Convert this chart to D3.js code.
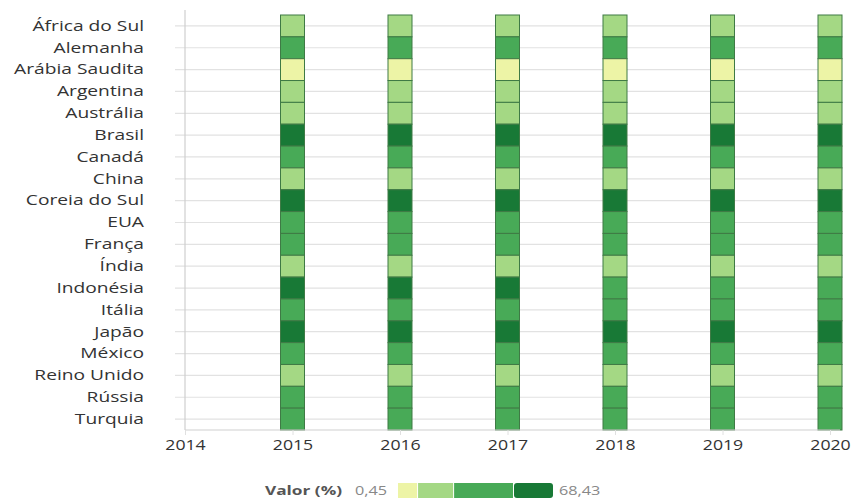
<!DOCTYPE html>
<html>
<head>
<meta charset="utf-8">
<script src="https://cdn.jsdelivr.net/npm/d3@7"></script>
<style>
  html, body { margin: 0; padding: 0; background: #fff; }
  svg { display: block; font-family: "Open Sans", "Noto Sans", sans-serif; }
</style>
</head>
<body>
<svg id="chart" width="852" height="499"></svg>
<script>
// ---- Data ----
const countries = ["África do Sul","Alemanha","Arábia Saudita","Argentina","Austrália","Brasil","Canadá","China","Coreia do Sul","EUA","França","Índia","Indonésia","Itália","Japão","México","Reino Unido","Rússia","Turquia"];
const years = [2015, 2016, 2017, 2018, 2019, 2020];
const xTicks = [2014, 2015, 2016, 2017, 2018, 2019, 2020];
// values (%) per country, one per year 2015..2020
const valAfricaDoSul   = [18.2, 18.6, 19.0, 18.4, 18.9, 19.3];
const valAlemanha      = [38.5, 39.2, 39.8, 40.1, 40.6, 41.0];
const valArabiaSaudita = [0.45, 0.9, 1.3, 1.6, 1.9, 2.4];
const valArgentina     = [16.4, 16.9, 17.2, 17.8, 18.1, 18.5];
const valAustralia     = [20.3, 20.8, 21.2, 21.5, 21.9, 22.4];
const valBrasil        = [62.1, 63.0, 64.2, 65.5, 66.8, 68.43];
const valCanada        = [34.6, 35.2, 35.8, 36.1, 36.7, 37.3];
const valChina         = [22.0, 22.4, 22.9, 23.3, 23.8, 24.1];
const valCoreiaDoSul   = [58.7, 59.3, 60.1, 60.8, 61.5, 62.2];
const valEUA           = [33.1, 33.7, 34.2, 34.9, 35.4, 36.0];
const valFranca        = [40.2, 40.9, 41.5, 42.0, 42.6, 43.1];
const valIndia         = [15.1, 15.6, 16.0, 16.5, 16.9, 17.4];
const valIndonesia     = [53.9, 52.8, 51.6, 49.7, 48.8, 47.9];
const valItalia        = [44.3, 44.9, 45.4, 45.9, 46.5, 47.0];
const valJapao         = [56.2, 56.9, 57.6, 58.3, 58.9, 59.6];
const valMexico        = [36.8, 37.4, 37.9, 38.5, 39.0, 39.6];
const valReinoUnido    = [19.4, 19.9, 20.3, 20.8, 21.2, 21.7];
const valRussia        = [30.7, 31.2, 31.8, 32.3, 32.9, 33.4];
const valTurquia       = [42.1, 42.7, 43.2, 43.8, 44.3, 44.9];
const seriesValues = [valAfricaDoSul, valAlemanha, valArabiaSaudita, valArgentina, valAustralia, valBrasil, valCanada, valChina, valCoreiaDoSul, valEUA, valFranca, valIndia, valIndonesia, valItalia, valJapao, valMexico, valReinoUnido, valRussia, valTurquia];

const legendTitle = "Valor (%)";
const valueMin = 0.45, valueMax = 68.43;
const minLabel = "0,45", maxLabel = "68,43";
const thresholds = [9.2, 24.9, 51.0];
const colors = ["#edf4a6", "#a4d884", "#48aa57", "#187936"];

// ---- Build cells ----
const cells = [];
countries.forEach((c, i) => {
  years.forEach((y, j) => cells.push({ country: c, year: y, value: seriesValues[i][j] }));
});

const FONT = '"Open Sans", "Noto Sans", sans-serif';
const SY = 1.28; // horizontal stretch of the reference's row labels
const SX = 1.18; // horizontal stretch of the year labels

const svg = d3.select("#chart");
const x = d3.scaleLinear().domain([2014, 2020]).range([185, 830]);
const y = d3.scaleBand().domain(countries).range([15, 430]).padding(0);
const color = d3.scaleThreshold().domain(thresholds).range(colors);
const cellW = 24;

// horizontal gridlines (y axis ticks)
const yAxis = d3.axisLeft(y).tickSize(10).tickPadding(30);
const gy = svg.append("g").attr("transform", "translate(185,0)").call(yAxis)
  .attr("font-family", FONT);
gy.select(".domain").remove();
gy.selectAll(".tick line").attr("x1", -10).attr("x2", 655).attr("stroke", "#e2e2e2").attr("stroke-width", 1.2);
gy.selectAll(".tick text").attr("font-size", 15).attr("fill", "#333")
  .attr("x", -41 / SY).attr("transform", `scale(${SY},1)`);

// vertical axis line
svg.append("line").attr("x1", 185).attr("x2", 185).attr("y1", 10).attr("y2", 430)
  .attr("stroke", "#cfcfcf").attr("stroke-width", 1.2);

// cells
svg.append("g").selectAll("rect").data(cells).join("rect")
  .attr("x", d => x(d.year) - cellW / 2)
  .attr("y", d => y(d.country))
  .attr("width", cellW)
  .attr("height", y.bandwidth())
  .attr("fill", d => color(d.value))
  .attr("stroke", "#3f7a45")
  .attr("stroke-width", 1);

// bottom axis
const xAxis = d3.axisBottom(x).tickValues(xTicks).tickFormat(d3.format("d")).tickSize(5).tickPadding(4);
const gx = svg.append("g").attr("transform", "translate(0,430)").call(xAxis)
  .attr("font-family", FONT);
gx.select(".domain").attr("d", "M185,0H840").attr("stroke", "#cfcfcf").attr("stroke-width", 1.2);
gx.selectAll(".tick line").attr("stroke", "#e0e0e0");
gx.selectAll(".tick text").attr("font-size", 15).attr("fill", "#333")
  .attr("transform", `scale(${SX},1)`);

// legend
const lx = d3.scaleLinear().domain([valueMin, valueMax]).range([397, 553]);
const legend = svg.append("g").attr("font-family", FONT);
const LS = 1.38;
legend.append("text").attr("transform", `translate(342,495) scale(${LS},1)`).attr("text-anchor", "end")
  .attr("font-size", 12.5).attr("font-weight", "bold").attr("fill", "#555").text(legendTitle);
legend.append("text").attr("transform", `translate(355,495) scale(1.3,1)`)
  .attr("font-size", 12.5).attr("fill", "#888").text(minLabel);
legend.append("text").attr("transform", `translate(559,495) scale(1.3,1)`)
  .attr("font-size", 12.5).attr("fill", "#888").text(maxLabel);
const edges = [valueMin, ...thresholds, valueMax];
const segs = colors.map((c, i) => ({ c, a: edges[i], b: edges[i + 1] }));
legend.selectAll("rect").data(segs).join("rect")
  .attr("x", d => lx(d.a) + 1)
  .attr("y", 483)
  .attr("width", d => lx(d.b) - lx(d.a) - 1)
  .attr("height", 15)
  .attr("rx", (d, i) => i === segs.length - 1 ? 3 : 0)
  .attr("fill", d => d.c);
</script>
</body>
</html>
